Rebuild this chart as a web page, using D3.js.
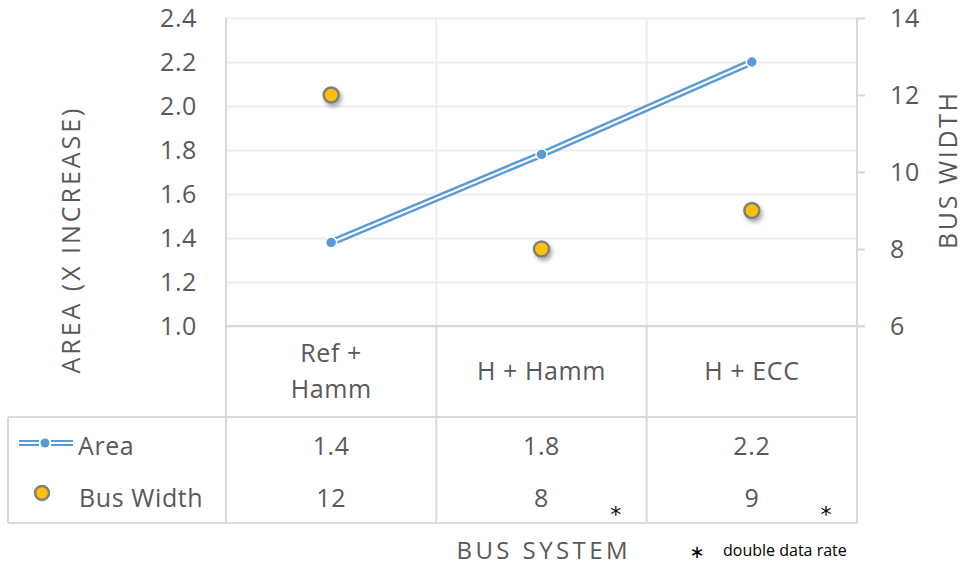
<!DOCTYPE html>
<html>
<head>
<meta charset="utf-8">
<script src="https://cdn.jsdelivr.net/npm/d3@7"></script>
<style>
  body { margin: 0; background: #fff; }
  text { font-family: "Open Sans", sans-serif; fill: #595959; }
</style>
</head>
<body>
<div id="chart"></div>
<script>
const categories = ["Ref + Hamm", "H + Hamm", "H + ECC"];
const categoryLines = [["Ref +", "Hamm"], ["H + Hamm"], ["H + ECC"]];
const areaValues = [1.38, 1.78, 2.2];
const busWidthValues = [12, 8, 9];
const ddrFlags = [false, true, true];
const leftTicks = [1.0, 1.2, 1.4, 1.6, 1.8, 2.0, 2.2, 2.4];
const rightTicks = [6, 8, 10, 12, 14];

const width = 967, height = 566;
const plot = { left: 226, right: 857, top: 18, bottom: 326 };
const tableTop = 417, tableBottom = 523, tableLeft = 8;
const rowY = [446, 498];
const fs = "25px", ls = "0.6px";
const blue = "#5B9BD5", gold = "#FFC000", grey = "#7F7F7F";
const lineCol = "#D9D9D9", gridCol = "#EDEDED";

const svg = d3.select("#chart").append("svg")
  .attr("width", width).attr("height", height);

const defs = svg.append("defs");
const shadow = defs.append("filter").attr("id", "shadow")
  .attr("x", "-50%").attr("y", "-50%").attr("width", "200%").attr("height", "200%");
shadow.append("feDropShadow").attr("dx", 2).attr("dy", 3)
  .attr("stdDeviation", 2).attr("flood-color", "#000").attr("flood-opacity", 0.35);

// scales
const x = d3.scaleBand().domain(categories).range([plot.left, plot.right]).padding(0);
const yLeft = d3.scaleLinear().domain([1.0, 2.4]).range([plot.bottom, plot.top]);
const yRight = d3.scaleLinear().domain([6, 14]).range([plot.bottom, plot.top]);
const cx = d => x(d) + x.bandwidth() / 2;

// horizontal gridlines
svg.append("g")
  .attr("transform", `translate(${plot.left},0)`)
  .call(d3.axisLeft(yLeft).tickValues(leftTicks).tickSize(-(plot.right - plot.left)).tickFormat(""))
  .call(g => g.select(".domain").remove())
  .call(g => g.selectAll("line").attr("stroke", gridCol).attr("stroke-width", 2));

// vertical gridlines inside plot
svg.append("g").selectAll("line")
  .data(categories.slice(1))
  .join("line")
  .attr("x1", d => x(d)).attr("x2", d => x(d))
  .attr("y1", plot.top).attr("y2", plot.bottom)
  .attr("stroke", gridCol).attr("stroke-width", 2);

// plot border left/right
svg.append("line").attr("x1", plot.left).attr("x2", plot.left)
  .attr("y1", plot.top).attr("y2", tableBottom)
  .attr("stroke", lineCol).attr("stroke-width", 2);
svg.append("line").attr("x1", plot.right).attr("x2", plot.right)
  .attr("y1", plot.top).attr("y2", tableBottom)
  .attr("stroke", lineCol).attr("stroke-width", 2);

// left axis labels
svg.append("g")
  .attr("transform", `translate(${plot.left},0)`)
  .call(d3.axisLeft(yLeft).tickValues(leftTicks).tickSize(0).tickPadding(29).tickFormat(d3.format(".1f")))
  .call(g => g.select(".domain").remove())
  .call(g => g.selectAll("text").style("font-size", fs).style("letter-spacing", ls)
    .attr("fill", "#595959").style("font-family", "Open Sans"));

// right axis
svg.append("g")
  .attr("transform", `translate(${plot.right},0)`)
  .call(d3.axisRight(yRight).tickValues(rightTicks).tickSize(8).tickPadding(25))
  .call(g => g.select(".domain").remove())
  .call(g => g.selectAll("line").attr("stroke", lineCol).attr("stroke-width", 2))
  .call(g => g.selectAll("text").style("font-size", fs).style("letter-spacing", ls)
    .attr("fill", "#595959").style("font-family", "Open Sans"));

// table lines
const tbl = svg.append("g").attr("stroke", lineCol).attr("stroke-width", 2);
tbl.append("line").attr("x1", plot.left).attr("x2", plot.right + 8).attr("y1", plot.bottom).attr("y2", plot.bottom);
tbl.append("line").attr("x1", tableLeft).attr("x2", plot.right).attr("y1", tableTop).attr("y2", tableTop);
tbl.append("line").attr("x1", tableLeft).attr("x2", plot.right).attr("y1", tableBottom).attr("y2", tableBottom);
tbl.append("line").attr("x1", tableLeft).attr("x2", tableLeft).attr("y1", tableTop).attr("y2", tableBottom);
tbl.selectAll(".vsep").data(categories.slice(1)).join("line")
  .attr("x1", d => x(d)).attr("x2", d => x(d))
  .attr("y1", plot.bottom).attr("y2", tableBottom);

// category labels
const catG = svg.append("g");
categories.forEach((c, i) => {
  const lines = categoryLines[i];
  const mid = (plot.bottom + tableTop) / 2;
  lines.forEach((l, j) => {
    catG.append("text")
      .attr("x", cx(c))
      .attr("y", mid + (j - (lines.length - 1) / 2) * 36)
      .attr("dy", "0.35em")
      .attr("text-anchor", "middle")
      .style("font-size", fs).style("letter-spacing", ls)
      .text(l);
  });
});

// Area line (double line)
const line = d3.line().x((d, i) => cx(categories[i])).y(d => yLeft(d));
svg.append("path").datum(areaValues)
  .attr("d", line).attr("fill", "none")
  .attr("stroke", blue).attr("stroke-width", 7);
svg.append("path").datum(areaValues)
  .attr("d", line).attr("fill", "none")
  .attr("stroke", "#fff").attr("stroke-width", 2.2);
svg.append("g").selectAll("circle")
  .data(areaValues).join("circle")
  .attr("cx", (d, i) => cx(categories[i]))
  .attr("cy", d => yLeft(d))
  .attr("r", 5.5)
  .attr("fill", blue).attr("stroke", "#fff").attr("stroke-width", 1.5);

// Bus width points
svg.append("g").selectAll("circle")
  .data(busWidthValues).join("circle")
  .attr("cx", (d, i) => cx(categories[i]))
  .attr("cy", d => yRight(d))
  .attr("r", 7.5)
  .attr("fill", gold).attr("stroke", grey).attr("stroke-width", 2.5)
  .attr("filter", "url(#shadow)");

// table values
svg.append("g").selectAll("text")
  .data(areaValues).join("text")
  .attr("x", (d, i) => cx(categories[i])).attr("y", rowY[0]).attr("dy", "0.35em")
  .attr("text-anchor", "middle").style("font-size", fs).style("letter-spacing", ls)
  .text(d => d.toFixed(1));
svg.append("g").selectAll("text")
  .data(busWidthValues).join("text")
  .attr("x", (d, i) => cx(categories[i])).attr("y", rowY[1]).attr("dy", "0.35em")
  .attr("text-anchor", "middle").style("font-size", fs).style("letter-spacing", ls)
  .text(d => d);
svg.append("g").selectAll("text")
  .data(categories.filter((c, i) => ddrFlags[i])).join("text")
  .attr("x", d => x(d) + x.bandwidth() - 31).attr("y", 522)
  .attr("text-anchor", "middle")
  .style("font-size", "22px").style("font-family", "DejaVu Sans").style("fill", "#000")
  .text("*");

// legend keys in table
const lk = svg.append("g");
[-3, 3].forEach(off => {
  lk.append("line").attr("x1", 19).attr("x2", 73)
    .attr("y1", 443 + off / 1.5).attr("y2", 443 + off / 1.5)
    .attr("stroke", blue).attr("stroke-width", 2);
});
lk.append("rect").attr("x", 39).attr("y", 436).attr("width", 12).attr("height", 14).attr("fill", "#fff");
lk.append("circle").attr("cx", 45).attr("cy", 443).attr("r", 4.5).attr("fill", blue);
lk.append("text").attr("x", 78).attr("y", rowY[0]).attr("dy", "0.35em")
  .style("font-size", fs).style("letter-spacing", ls).text("Area");
lk.append("circle").attr("cx", 42).attr("cy", 493).attr("r", 7)
  .attr("fill", gold).attr("stroke", grey).attr("stroke-width", 2.5);
lk.append("text").attr("x", 79).attr("y", rowY[1]).attr("dy", "0.35em")
  .style("font-size", fs).style("letter-spacing", ls).text("Bus Width");

// axis titles
svg.append("text")
  .attr("transform", `translate(80,241) rotate(-90)`)
  .attr("text-anchor", "middle")
  .style("font-size", fs)
  .attr("textLength", 265).attr("lengthAdjust", "spacing")
  .text("AREA  (X  INCREASE)");
svg.append("text")
  .attr("transform", `translate(957,171) rotate(-90)`)
  .attr("text-anchor", "middle")
  .style("font-size", fs)
  .attr("textLength", 156).attr("lengthAdjust", "spacing")
  .text("BUS  WIDTH");
svg.append("text")
  .attr("x", 542).attr("y", 559)
  .attr("text-anchor", "middle")
  .style("font-size", "24px")
  .attr("textLength", 171).attr("lengthAdjust", "spacing")
  .text("BUS  SYSTEM");

// footnote
svg.append("text").attr("x", 697).attr("y", 558).attr("text-anchor", "middle")
  .style("font-size", "18px").style("font-family", "DejaVu Sans").style("fill", "#000").text("\u2217");
svg.append("text").attr("x", 723).attr("y", 556)
  .style("font-size", "16px").style("fill", "#000")
  .text("double data rate");
</script>
</body>
</html>
